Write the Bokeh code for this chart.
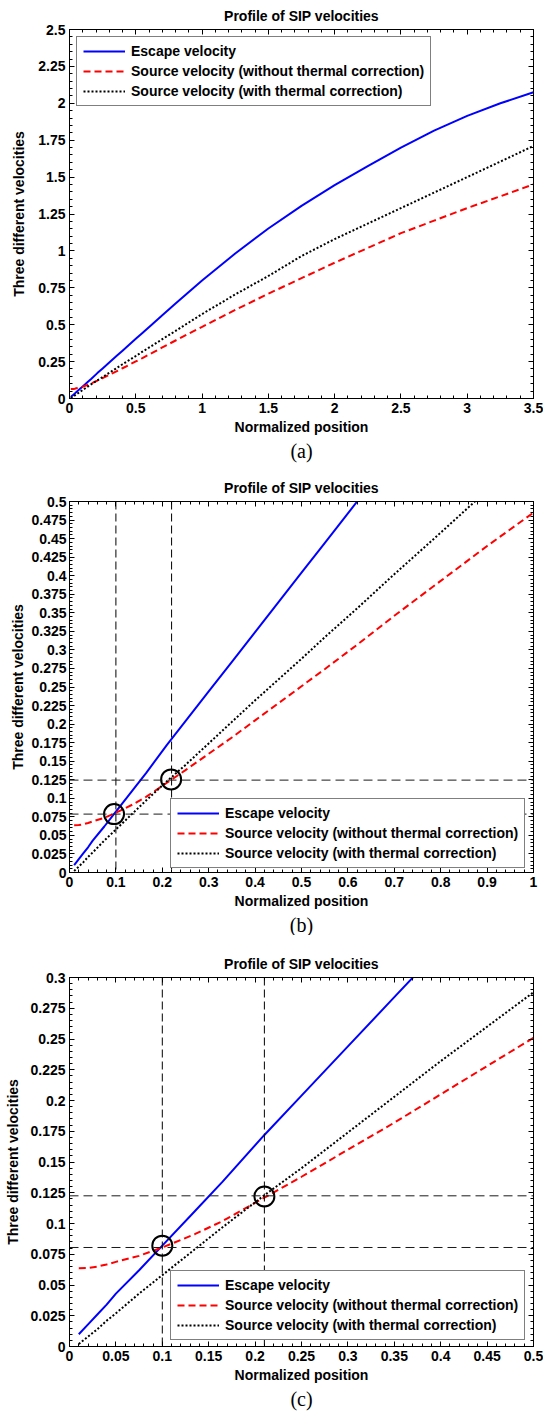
from bokeh.plotting import figure
from bokeh.models import (Range1d, FixedTicker, LinearAxis, CustomJSTickFormatter,
                          Span, Title)
from bokeh.layouts import column
from bokeh.embed import file_html
from bokeh.resources import INLINE
import numpy as np

# ---- curves: velocity profiles along the normalized position ----
position = [0.01, 0.02, 0.03, 0.04, 0.05, 0.075, 0.1, 0.135, 0.165, 0.21,
            0.25, 0.3, 0.35, 0.4, 0.45, 0.5, 0.55, 0.62, 0.7, 0.8,
            0.9, 1.0, 1.25, 1.5, 1.75, 2.0, 2.25, 2.5, 2.75, 3.0,
            3.25, 3.5]
escape_velocity = [0.010, 0.018, 0.026, 0.034, 0.043, 0.062, 0.082, 0.110, 0.134, 0.172,
                   0.204, 0.244, 0.284, 0.324, 0.364, 0.404, 0.444, 0.500, 0.564, 0.643,
                   0.722, 0.800, 0.982, 1.152, 1.305, 1.445, 1.575, 1.700, 1.815, 1.915,
                   2.000, 2.075]
source_velocity_raw = [0.0637, 0.0639, 0.0650, 0.0667, 0.0688, 0.0737, 0.0805, 0.0913, 0.102, 0.121,
                       0.138, 0.160, 0.182, 0.205, 0.228, 0.251, 0.274, 0.307, 0.346, 0.393,
                       0.440, 0.485, 0.600, 0.710, 0.815, 0.920, 1.020, 1.120, 1.205, 1.290,
                       1.370, 1.451]
source_velocity_thermal = [0.002, 0.008, 0.014, 0.021, 0.027, 0.043, 0.058, 0.079, 0.097, 0.123,
                           0.145, 0.174, 0.203, 0.232, 0.260, 0.288, 0.317, 0.356, 0.402, 0.458,
                           0.515, 0.572, 0.705, 0.830, 0.965, 1.080, 1.185, 1.290, 1.395, 1.500,
                           1.605, 1.711]

series_names = ["Escape velocity",
                "Source velocity (without thermal correction)",
                "Source velocity (with thermal correction)"]

# ---- tick labels for the three views ----
ticks_x_a = [0, 0.5, 1, 1.5, 2, 2.5, 3, 3.5]
ticks_y_a = [0, 0.25, 0.5, 0.75, 1, 1.25, 1.5, 1.75, 2, 2.25, 2.5]
ticks_x_b = [0, 0.1, 0.2, 0.3, 0.4, 0.5, 0.6, 0.7, 0.8, 0.9, 1]
ticks_y_b = [0, 0.025, 0.05, 0.075, 0.1, 0.125, 0.15, 0.175, 0.2, 0.225, 0.25,
             0.275, 0.3, 0.325, 0.35, 0.375, 0.4, 0.425, 0.45, 0.475, 0.5]
ticks_x_c = [0, 0.05, 0.1, 0.15, 0.2, 0.25, 0.3, 0.35, 0.4, 0.45, 0.5]
ticks_y_c = [0, 0.025, 0.05, 0.075, 0.1, 0.125, 0.15, 0.175, 0.2, 0.225, 0.25, 0.275, 0.3]

# ---- crossing points and their guide lines ----
guide_x_b = [0.1, 0.22]
guide_y_b = [0.0787, 0.1245]
cross_x_b = [0.096, 0.219]
cross_y_b = [0.0787, 0.1255]

guide_x_c = [0.1, 0.21]
guide_y_c = [0.0805, 0.1225]
cross_x_c = [0.1, 0.21]
cross_y_c = [0.082, 0.122]

SANS = "Liberation Sans"
SERIF = "Liberation Serif"


def minor(end, step):
    return [float(v) for v in np.round(np.arange(0, end + step / 2, step), 4)]


def style_axis(ax):
    ax.major_tick_in = 5
    ax.major_tick_out = 0
    ax.minor_tick_in = 3
    ax.minor_tick_out = 0
    ax.axis_line_color = "black"
    ax.major_tick_line_color = "black"
    ax.minor_tick_line_color = "black"


def mirror_axis(p, place, ticks, minor_ticks):
    ax = LinearAxis(ticker=FixedTicker(ticks=ticks, minor_ticks=minor_ticks),
                    formatter=CustomJSTickFormatter(code="return ''"))
    style_axis(ax)
    ax.major_label_text_font_size = "0px"
    ax.major_label_standoff = 0
    p.add_layout(ax, place)


def panel(tag, width, height, borders, x_end, y_end, xt, x_step, yt, y_step,
          legend_loc, legend_margin, y_standoffs=(4, 8), guides=None):
    left, right, top, bottom = borders
    p = figure(width=width, height=height,
               x_range=Range1d(0, x_end), y_range=Range1d(0, y_end),
               output_backend="svg", toolbar_location=None,
               title="Profile of SIP velocities",
               min_border_left=left, min_border_right=right,
               min_border_top=top, min_border_bottom=bottom)
    p.xgrid.visible = False
    p.ygrid.visible = False
    p.outline_line_color = "black"
    p.outline_line_width = 1
    p.background_fill_color = "white"
    p.border_fill_color = "white"

    p.title.text_font = SANS
    p.title.text_font_size = "14px"
    p.title.text_font_style = "bold"
    p.title.text_color = "black"
    p.title.align = "center"
    p.title.standoff = 11

    fmt = CustomJSTickFormatter(code="return String(Number(tick.toFixed(4)));")
    p.xaxis.ticker = FixedTicker(ticks=xt, minor_ticks=minor(x_end, x_step))
    p.yaxis.ticker = FixedTicker(ticks=yt, minor_ticks=minor(y_end, y_step))
    for ax in (p.xaxis[0], p.yaxis[0]):
        style_axis(ax)
        ax.formatter = fmt
        ax.major_label_text_font = SANS
        ax.major_label_text_font_size = "14px"
        ax.major_label_text_font_style = "bold"
        ax.major_label_text_color = "black"
        ax.axis_label_text_font = SANS
        ax.axis_label_text_font_size = "14px"
        ax.axis_label_text_font_style = "bold"
        ax.axis_label_text_color = "black"
    p.xaxis.axis_label = "Normalized position"
    p.yaxis.axis_label = "Three different velocities"
    p.xaxis.major_label_standoff = 4
    p.xaxis.axis_label_standoff = 3
    p.yaxis.major_label_standoff = y_standoffs[0]
    p.yaxis.axis_label_standoff = y_standoffs[1]

    mirror_axis(p, "above", xt, minor(x_end, x_step))
    mirror_axis(p, "right", yt, minor(y_end, y_step))

    p.add_layout(Title(text=tag, align="center", text_font=SERIF,
                       text_font_size="20px", text_font_style="normal",
                       text_color="black", standoff=0), "below")

    p.line(position, escape_velocity, line_color="#0000FF", line_width=2,
           legend_label=series_names[0])
    p.line(position, source_velocity_raw, line_color="#FF0000", line_width=2,
           line_dash="7 4", legend_label=series_names[1])
    p.line(position, source_velocity_thermal, line_color="black", line_width=2,
           line_dash="2 2", legend_label=series_names[2])

    lg = p.legend[0]
    lg.location = legend_loc
    lg.margin = legend_margin
    lg.label_text_font = SANS
    lg.label_text_font_size = "14px"
    lg.label_text_font_style = "bold"
    lg.label_text_color = "black"
    lg.glyph_width = 42
    lg.glyph_height = 16
    lg.label_height = 16
    lg.spacing = 4
    lg.padding = 6
    lg.label_standoff = 6
    lg.border_line_color = "black"
    lg.border_line_width = 1.5
    lg.background_fill_color = "white"
    lg.background_fill_alpha = 1

    if guides is not None:
        gx, gy, cx, cy = guides
        p.scatter(cx, cy, marker="circle", size=20, fill_color=None,
                  line_color="black", line_width=2)
        for v in gx:
            p.add_layout(Span(location=v, dimension="height", line_color="black",
                              line_width=1, line_dash="8 4", level="overlay"))
        for v in gy:
            p.add_layout(Span(location=v, dimension="width", line_color="#1a1a1a",
                              line_width=1, line_dash="9 5", level="overlay"))
    return p


pa = panel("(a)", 543, 470, (64, 10, 27, 72), 3.5, 2.5, ticks_x_a, 0.1, ticks_y_a, 0.05,
           "top_left", 7)
pb = panel("(b)", 543, 465, (62, 10, 31, 63), 1.0, 0.5, ticks_x_b, 0.02, ticks_y_b, 0.005,
           (101, 4), 0, (3, 2), (guide_x_b, guide_y_b, cross_x_b, cross_y_b))
pc = panel("(c)", 543, 482, (69, 5, 42, 71), 0.5, 0.3, ticks_x_c, 0.01, ticks_y_c, 0.005,
           (101, 6), 0, (4, 6), (guide_x_c, guide_y_c, cross_x_c, cross_y_c))

layout = column(pa, pb, pc, spacing=0)
open("out.html", "w").write(file_html(layout, INLINE))
